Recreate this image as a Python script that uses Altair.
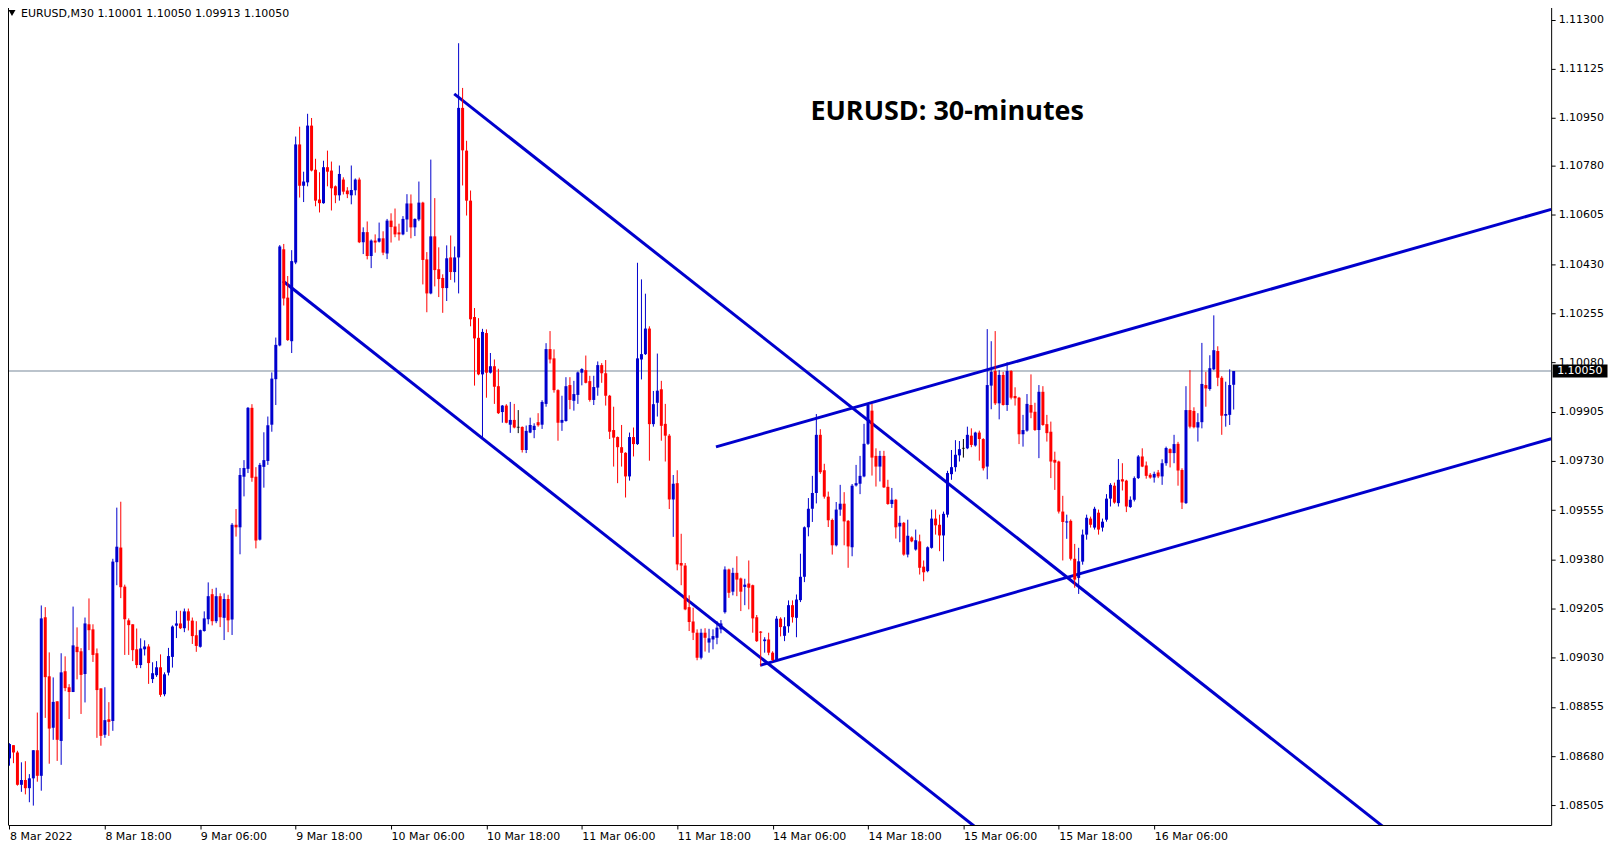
import json
import altair as alt
import pandas as pd

# ---------------- data (EURUSD M30) ----------------
OPEN = [1.08672, 1.08719, 1.08693, 1.08578, 1.08595, 1.08566, 1.08601, 1.08701, 1.08610, 1.09174,
        1.08964, 1.08781, 1.08875, 1.08734, 1.08982, 1.08925, 1.08908, 1.09069, 1.09053, 1.08972,
        1.09149, 1.09131, 1.09046, 1.08921, 1.08756, 1.08811, 1.08805, 1.09370, 1.09422, 1.09283,
        1.09163, 1.09149, 1.09060, 1.09004, 1.09060, 1.09070, 1.08954, 1.08968, 1.08996, 1.08900,
        1.08977, 1.09033, 1.09144, 1.09152, 1.09135, 1.09195, 1.09162, 1.09110, 1.09069, 1.09125,
        1.09167, 1.09256, 1.09160, 1.09249, 1.09172, 1.09239, 1.09166, 1.09503, 1.09494, 1.09674,
        1.09702, 1.09919, 1.09674, 1.09450, 1.09709, 1.09730, 1.09859, 1.10021, 1.10141, 1.10483,
        1.10311, 1.10156, 1.10436, 1.10856, 1.10709, 1.10721, 1.10923, 1.10766, 1.10660, 1.10647,
        1.10775, 1.10763, 1.10707, 1.10675, 1.10731, 1.10692, 1.10675, 1.10693, 1.10731, 1.10508,
        1.10544, 1.10459, 1.10514, 1.10510, 1.10522, 1.10468, 1.10585, 1.10564, 1.10543, 1.10536,
        1.10589, 1.10646, 1.10561, 1.10589, 1.10649, 1.10447, 1.10326, 1.10529, 1.10412, 1.10381,
        1.10345, 1.10454, 1.10402, 1.10454, 1.10986, 1.10834, 1.10656, 1.10242, 1.10168, 1.10038,
        1.10185, 1.10044, 1.10067, 1.09996, 1.09904, 1.09927, 1.09859, 1.09876, 1.09850, 1.09851,
        1.09769, 1.09831, 1.09840, 1.09868, 1.09859, 1.09933, 1.10128, 1.10095, 1.09982, 1.09866,
        1.09872, 1.10000, 1.09944, 1.09965, 1.10044, 1.10053, 1.10014, 1.09947, 1.09991, 1.10071,
        1.10042, 1.09962, 1.09840, 1.09815, 1.09779, 1.09759, 1.09675, 1.09815, 1.09790, 1.10091,
        1.10110, 1.10201, 1.09861, 1.09937, 1.09985, 1.09862, 1.09820, 1.09593, 1.09651, 1.09367,
        1.09358, 1.09210, 1.09159, 1.09119, 1.09030, 1.09119, 1.09084, 1.09095, 1.09101, 1.09131,
        1.09192, 1.09344, 1.09265, 1.09332, 1.09312, 1.09282, 1.09294, 1.09288, 1.09174, 1.09123,
        1.09089, 1.09095, 1.09048, 1.09022, 1.09169, 1.09108, 1.09142, 1.09217, 1.09172, 1.09235,
        1.09318, 1.09494, 1.09560, 1.09616, 1.09823, 1.09697, 1.09603, 1.09520, 1.09430, 1.09557,
        1.09578, 1.09517, 1.09423, 1.09643, 1.09649, 1.09675, 1.09791, 1.09909, 1.09748, 1.09710,
        1.09748, 1.09638, 1.09577, 1.09592, 1.09497, 1.09510, 1.09397, 1.09458, 1.09415, 1.09444,
        1.09354, 1.09338, 1.09421, 1.09525, 1.09503, 1.09465, 1.09539, 1.09683, 1.09708, 1.09750,
        1.09775, 1.09775, 1.09820, 1.09785, 1.09831, 1.09808, 1.09710, 1.09998, 1.10050, 1.09935,
        1.10036, 1.09929, 1.10050, 1.09961, 1.09955, 1.09825, 1.09838, 1.09929, 1.09905, 1.09840,
        1.09976, 1.09861, 1.09834, 1.09734, 1.09728, 1.09550, 1.09511, 1.09517, 1.09382, 1.09314,
        1.09372, 1.09468, 1.09525, 1.09493, 1.09546, 1.09493, 1.09521, 1.09596, 1.09642, 1.09580,
        1.09665, 1.09660, 1.09566, 1.09592, 1.09669, 1.09746, 1.09714, 1.09681, 1.09671, 1.09689,
        1.09675, 1.09722, 1.09772, 1.09758, 1.09791, 1.09698, 1.09580, 1.09911, 1.09908, 1.09849,
        1.09868, 1.10000, 1.09986, 1.10056, 1.10121, 1.10026, 1.09891, 1.09894, 1.10001]

HIGH = [1.08726, 1.08719, 1.08699, 1.08658, 1.08662, 1.08616, 1.08701, 1.08835, 1.09216, 1.09210,
        1.09049, 1.08960, 1.08875, 1.09046, 1.09035, 1.08936, 1.09212, 1.09138, 1.09064, 1.09173,
        1.09241, 1.09149, 1.09063, 1.08921, 1.08925, 1.08872, 1.09382, 1.09564, 1.09585, 1.09290,
        1.09170, 1.09149, 1.09134, 1.09099, 1.09092, 1.09078, 1.09014, 1.09018, 1.09042, 1.08978,
        1.09065, 1.09145, 1.09197, 1.09197, 1.09205, 1.09205, 1.09173, 1.09160, 1.09130, 1.09195,
        1.09298, 1.09275, 1.09279, 1.09259, 1.09259, 1.09254, 1.09509, 1.09559, 1.09705, 1.09733,
        1.09922, 1.09932, 1.09708, 1.09723, 1.09832, 1.09888, 1.10045, 1.10169, 1.10498, 1.10502,
        1.10388, 1.10480, 1.10884, 1.10919, 1.10759, 1.10965, 1.10950, 1.10805, 1.10757, 1.10798,
        1.10834, 1.10795, 1.10710, 1.10781, 1.10739, 1.10704, 1.10781, 1.10735, 1.10738, 1.10561,
        1.10582, 1.10518, 1.10536, 1.10578, 1.10547, 1.10591, 1.10611, 1.10628, 1.10574, 1.10601,
        1.10679, 1.10678, 1.10593, 1.10724, 1.10652, 1.10473, 1.10802, 1.10665, 1.10490, 1.10394,
        1.10497, 1.10532, 1.10493, 1.11216, 1.11057, 1.10869, 1.10692, 1.10274, 1.10238, 1.10200,
        1.10198, 1.10114, 1.10091, 1.10058, 1.09929, 1.09932, 1.09940, 1.09933, 1.09911, 1.09853,
        1.09856, 1.09884, 1.09864, 1.09900, 1.09946, 1.10149, 1.10192, 1.10127, 1.09985, 1.09962,
        1.10028, 1.10028, 1.10015, 1.10048, 1.10060, 1.10105, 1.10033, 1.10033, 1.10084, 1.10078,
        1.10089, 1.09965, 1.09923, 1.09817, 1.09858, 1.09761, 1.09831, 1.09849, 1.10435, 1.10376,
        1.10325, 1.10209, 1.09979, 1.10112, 1.10015, 1.09933, 1.09826, 1.09680, 1.09697, 1.09471,
        1.09367, 1.09252, 1.09208, 1.09131, 1.09133, 1.09135, 1.09133, 1.09131, 1.09160, 1.09164,
        1.09355, 1.09347, 1.09350, 1.09391, 1.09315, 1.09311, 1.09376, 1.09290, 1.09182, 1.09125,
        1.09103, 1.09119, 1.09053, 1.09178, 1.09174, 1.09174, 1.09234, 1.09234, 1.09255, 1.09400,
        1.09497, 1.09598, 1.09677, 1.09897, 1.09843, 1.09720, 1.09621, 1.09525, 1.09584, 1.09645,
        1.09619, 1.09520, 1.09648, 1.09716, 1.09748, 1.09862, 1.09935, 1.09933, 1.09775, 1.09766,
        1.09766, 1.09663, 1.09634, 1.09595, 1.09535, 1.09513, 1.09521, 1.09462, 1.09486, 1.09468,
        1.09376, 1.09426, 1.09557, 1.09557, 1.09539, 1.09550, 1.09695, 1.09769, 1.09804, 1.09801,
        1.09808, 1.09852, 1.09846, 1.09834, 1.09838, 1.09811, 1.10199, 1.10156, 1.10192, 1.10053,
        1.10047, 1.10081, 1.10053, 1.09992, 1.09958, 1.09894, 1.09968, 1.10038, 1.09937, 1.10000,
        1.09996, 1.09894, 1.09870, 1.09763, 1.09731, 1.09606, 1.09539, 1.09522, 1.09435, 1.09421,
        1.09486, 1.09539, 1.09532, 1.09567, 1.09557, 1.09525, 1.09612, 1.09651, 1.09653, 1.09737,
        1.09722, 1.09663, 1.09604, 1.09675, 1.09751, 1.09775, 1.09728, 1.09687, 1.09692, 1.09698,
        1.09736, 1.09781, 1.09775, 1.09823, 1.09798, 1.09704, 1.09996, 1.10053, 1.09921, 1.09900,
        1.10150, 1.10047, 1.10106, 1.10248, 1.10138, 1.10032, 1.10012, 1.10056, 1.10050]

LOW = [1.08646, 1.08655, 1.08575, 1.08553, 1.08544, 1.08516, 1.08504, 1.08589, 1.08557, 1.08816,
       1.08653, 1.08738, 1.08663, 1.08649, 1.08911, 1.08812, 1.08908, 1.08953, 1.08830, 1.08871,
       1.09057, 1.09015, 1.08745, 1.08717, 1.08745, 1.08752, 1.08770, 1.09288, 1.09242, 1.09040,
       1.09040, 1.09018, 1.08993, 1.08993, 1.09038, 1.08937, 1.08940, 1.08962, 1.08891, 1.08893,
       1.08967, 1.08995, 1.09100, 1.09132, 1.09121, 1.09127, 1.09079, 1.09051, 1.09066, 1.09123,
       1.09149, 1.09145, 1.09153, 1.09139, 1.09093, 1.09121, 1.09111, 1.09461, 1.09398, 1.09604,
       1.09687, 1.09656, 1.09419, 1.09447, 1.09635, 1.09716, 1.09834, 1.09929, 1.10138, 1.10283,
       1.10157, 1.10114, 1.10430, 1.10667, 1.10651, 1.10707, 1.10760, 1.10636, 1.10614, 1.10645,
       1.10707, 1.10621, 1.10647, 1.10656, 1.10678, 1.10665, 1.10643, 1.10675, 1.10505, 1.10466,
       1.10447, 1.10416, 1.10471, 1.10507, 1.10462, 1.10448, 1.10507, 1.10526, 1.10514, 1.10533,
       1.10545, 1.10522, 1.10530, 1.10583, 1.10358, 1.10259, 1.10323, 1.10351, 1.10313, 1.10257,
       1.10299, 1.10374, 1.10365, 1.10326, 1.10710, 1.10603, 1.10209, 1.09998, 1.10035, 1.09807,
       1.09955, 1.10041, 1.09933, 1.09897, 1.09866, 1.09864, 1.09830, 1.09846, 1.09829, 1.09760,
       1.09758, 1.09829, 1.09811, 1.09852, 1.09844, 1.09923, 1.10077, 1.09973, 1.09802, 1.09837,
       1.09870, 1.09914, 1.09909, 1.09933, 1.09999, 1.10006, 1.09941, 1.09929, 1.09962, 1.10008,
       1.09927, 1.09808, 1.09710, 1.09651, 1.09710, 1.09600, 1.09660, 1.09746, 1.09787, 1.10020,
       1.10107, 1.09731, 1.09852, 1.09888, 1.09802, 1.09728, 1.09559, 1.09460, 1.09341, 1.09288,
       1.09199, 1.09125, 1.09093, 1.09021, 1.09024, 1.09052, 1.09048, 1.09060, 1.09078, 1.09117,
       1.09187, 1.09243, 1.09252, 1.09249, 1.09196, 1.09217, 1.09202, 1.09119, 1.09086, 1.09001,
       1.09048, 1.09039, 1.09018, 1.09018, 1.09106, 1.09089, 1.09119, 1.09155, 1.09103, 1.09228,
       1.09299, 1.09462, 1.09513, 1.09579, 1.09684, 1.09596, 1.09495, 1.09397, 1.09426, 1.09535,
       1.09430, 1.09350, 1.09391, 1.09639, 1.09612, 1.09672, 1.09787, 1.09678, 1.09639, 1.09657,
       1.09634, 1.09574, 1.09563, 1.09454, 1.09441, 1.09393, 1.09387, 1.09441, 1.09411, 1.09326,
       1.09302, 1.09334, 1.09418, 1.09468, 1.09409, 1.09373, 1.09529, 1.09663, 1.09692, 1.09728,
       1.09742, 1.09772, 1.09779, 1.09781, 1.09731, 1.09696, 1.09665, 1.09914, 1.09929, 1.09878,
       1.09927, 1.09908, 1.09949, 1.09927, 1.09790, 1.09781, 1.09834, 1.09882, 1.09837, 1.09740,
       1.09855, 1.09799, 1.09669, 1.09627, 1.09543, 1.09376, 1.09453, 1.09376, 1.09279, 1.09257,
       1.09361, 1.09450, 1.09493, 1.09486, 1.09468, 1.09479, 1.09514, 1.09568, 1.09578, 1.09568,
       1.09625, 1.09548, 1.09563, 1.09586, 1.09666, 1.09708, 1.09667, 1.09667, 1.09653, 1.09669,
       1.09645, 1.09713, 1.09707, 1.09722, 1.09642, 1.09559, 1.09577, 1.09846, 1.09846, 1.09799,
       1.09846, 1.09923, 1.09980, 1.10053, 1.09996, 1.09823, 1.09852, 1.09858, 1.09913]

CLOSE = [1.08723, 1.08693, 1.08578, 1.08595, 1.08566, 1.08601, 1.08701, 1.08610, 1.09170, 1.08961,
         1.08778, 1.08873, 1.08738, 1.08978, 1.08922, 1.08908, 1.09074, 1.09050, 1.08969, 1.09152,
         1.09128, 1.09040, 1.08915, 1.08752, 1.08808, 1.08802, 1.09372, 1.09425, 1.09281, 1.09167,
         1.09146, 1.09057, 1.09004, 1.09063, 1.09070, 1.09011, 1.08975, 1.08996, 1.08898, 1.08971,
         1.09036, 1.09141, 1.09152, 1.09135, 1.09195, 1.09162, 1.09107, 1.09072, 1.09128, 1.09170,
         1.09249, 1.09160, 1.09249, 1.09174, 1.09239, 1.09163, 1.09503, 1.09494, 1.09680, 1.09705,
         1.09919, 1.09670, 1.09447, 1.09716, 1.09733, 1.09857, 1.10023, 1.10143, 1.10493, 1.10308,
         1.10160, 1.10441, 1.10856, 1.10709, 1.10724, 1.10923, 1.10763, 1.10656, 1.10647, 1.10775,
         1.10759, 1.10700, 1.10675, 1.10751, 1.10688, 1.10679, 1.10694, 1.10731, 1.10508, 1.10544,
         1.10459, 1.10514, 1.10507, 1.10522, 1.10471, 1.10585, 1.10562, 1.10536, 1.10536, 1.10591,
         1.10646, 1.10561, 1.10591, 1.10649, 1.10445, 1.10326, 1.10529, 1.10409, 1.10377, 1.10345,
         1.10451, 1.10402, 1.10454, 1.10986, 1.10835, 1.10656, 1.10234, 1.10166, 1.10038, 1.10189,
         1.10044, 1.10067, 1.09994, 1.09900, 1.09927, 1.09866, 1.09876, 1.09849, 1.09850, 1.09769,
         1.09837, 1.09858, 1.09855, 1.09857, 1.09940, 1.10128, 1.10091, 1.09982, 1.09866, 1.09876,
         1.09996, 1.09947, 1.09968, 1.10045, 1.10057, 1.10008, 1.09947, 1.09993, 1.10071, 1.10042,
         1.09962, 1.09834, 1.09813, 1.09779, 1.09759, 1.09675, 1.09815, 1.09790, 1.10095, 1.10110,
         1.10201, 1.09861, 1.09932, 1.09980, 1.09855, 1.09820, 1.09593, 1.09649, 1.09362, 1.09358,
         1.09202, 1.09157, 1.09119, 1.09030, 1.09119, 1.09101, 1.09099, 1.09107, 1.09137, 1.09152,
         1.09344, 1.09261, 1.09332, 1.09308, 1.09265, 1.09290, 1.09279, 1.09170, 1.09089, 1.09119,
         1.09095, 1.09048, 1.09022, 1.09169, 1.09139, 1.09142, 1.09217, 1.09174, 1.09237, 1.09318,
         1.09494, 1.09560, 1.09616, 1.09823, 1.09690, 1.09603, 1.09519, 1.09430, 1.09557, 1.09578,
         1.09515, 1.09426, 1.09642, 1.09651, 1.09677, 1.09791, 1.09929, 1.09742, 1.09710, 1.09748,
         1.09636, 1.09577, 1.09592, 1.09494, 1.09510, 1.09397, 1.09464, 1.09444, 1.09448, 1.09350,
         1.09334, 1.09423, 1.09525, 1.09501, 1.09465, 1.09542, 1.09687, 1.09708, 1.09752, 1.09772,
         1.09775, 1.09823, 1.09787, 1.09831, 1.09808, 1.09704, 1.10000, 1.10047, 1.09935, 1.10036,
         1.09929, 1.10050, 1.09955, 1.09953, 1.09825, 1.09840, 1.09933, 1.09902, 1.09840, 1.09976,
         1.09858, 1.09829, 1.09728, 1.09724, 1.09550, 1.09513, 1.09515, 1.09382, 1.09308, 1.09373,
         1.09468, 1.09528, 1.09503, 1.09560, 1.09486, 1.09514, 1.09596, 1.09645, 1.09582, 1.09663,
         1.09657, 1.09568, 1.09592, 1.09669, 1.09746, 1.09710, 1.09677, 1.09671, 1.09684, 1.09675,
         1.09722, 1.09776, 1.09758, 1.09790, 1.09696, 1.09582, 1.09911, 1.09852, 1.09850, 1.09868,
         1.10004, 1.09988, 1.10060, 1.10124, 1.10026, 1.09891, 1.09897, 1.10000, 1.10050]

X_LABELS = ["8 Mar 2022", "8 Mar 18:00", "9 Mar 06:00", "9 Mar 18:00", "10 Mar 06:00",
            "10 Mar 18:00", "11 Mar 06:00", "11 Mar 18:00", "14 Mar 06:00", "14 Mar 18:00",
            "15 Mar 06:00", "15 Mar 18:00", "16 Mar 06:00"]
BARS_PER_LABEL = 24
Y_TICKS = [1.11300, 1.11125, 1.10950, 1.10780, 1.10605, 1.10430, 1.10255, 1.10080, 1.09905,
           1.09730, 1.09555, 1.09380, 1.09205, 1.09030, 1.08855, 1.08680, 1.08505]

# trend / channel lines: name, start bar, start price, end bar, end price
LINE_NAMES = ["lowerDown", "upperDown", "upperUp", "lowerUp"]
LINE_BAR0 = [68.8, 111.9, 177.75, 188.85]
LINE_P0 = [1.10370, 1.11036, 1.09780, 1.09003]
LINE_BAR1 = [250.0, 350.0, 387.875, 387.875]
LINE_P1 = [1.08350, 1.08380, 1.10625, 1.09809]

BID = 1.10050
HEADER = "EURUSD,M30  1.10001 1.10050 1.09913 1.10050"
TITLE = "EURUSD: 30-minutes"

# ---------------- styling ----------------
UP = "#0000cd"
DOWN = "#ff0000"
LINE_COLOR = "#0000cd"
FONT = "DejaVu Sans"
W, H = 1547, 826
X_DOMAIN = [-0.375, 387.875]
Y_DOMAIN = [1.08435, 1.11366]

candles = pd.DataFrame({"bar": list(range(len(OPEN))), "open": OPEN, "high": HIGH,
                        "low": LOW, "close": CLOSE})
candles["dir"] = ["up" if c > o else ("down" if c < o else "doji") for o, c in zip(OPEN, CLOSE)]

lines = pd.DataFrame({
    "name": [n for n in LINE_NAMES for _ in range(2)],
    "bar": [v for pair in zip(LINE_BAR0, LINE_BAR1) for v in pair],
    "price": [v for pair in zip(LINE_P0, LINE_P1) for v in pair],
})

label_expr = json.dumps(X_LABELS) + f"[round(datum.value / {BARS_PER_LABEL})]"
x_axis = alt.Axis(values=[i * BARS_PER_LABEL for i in range(len(X_LABELS))], labelExpr=label_expr,
                  title=None, orient="bottom", tickSize=4, labelAlign="left", labelBaseline="top",
                  labelPadding=2, labelFlush=False, labelOverlap=False, grid=False)
y_axis = alt.Axis(values=Y_TICKS, format=".5f", title=None, orient="right", tickSize=4,
                  labelPadding=3, labelFlush=False, labelOverlap=False, grid=False)
xs = alt.Scale(domain=X_DOMAIN, nice=False, zero=False)
ys = alt.Scale(domain=Y_DOMAIN, nice=False, zero=False)


def X(field):
    return alt.X(f"{field}:Q", scale=xs, axis=x_axis)


def Y(field):
    return alt.Y(f"{field}:Q", scale=ys, axis=y_axis)


color = alt.Color("dir:N", scale=alt.Scale(domain=["up", "down", "doji"], range=[UP, DOWN, "#000000"]),
                  legend=None)

base = alt.Chart(candles)
wicks = base.mark_rule(strokeWidth=1).encode(x=X("bar"), y=Y("low"), y2="high:Q", color=color)
bodies = base.mark_rule(strokeWidth=3, strokeCap="butt").encode(x=X("bar"), y=Y("open"), y2="close:Q",
                                                                 color=color)
dojis = base.transform_filter("datum.dir == 'doji'").mark_tick(
    orient="horizontal", size=3, thickness=1, color="black").encode(x=X("bar"), y=Y("open"))

bid_df = pd.DataFrame({"price": [BID], "label": [f"{BID:.5f}"]})
bid_line = alt.Chart(bid_df).mark_rule(color="#778899", strokeWidth=1).encode(y=Y("price"))

trend = alt.Chart(lines).mark_line(strokeWidth=3, clip=True, color=LINE_COLOR).encode(
    x=X("bar"), y=Y("price"), detail="name:N")

BOX = "M-1,-0.24L1,-0.24L1,0.24L-1,0.24Z"
bid_box = alt.Chart(bid_df).mark_point(shape=BOX, filled=True, color="black", size=3025,
                                       opacity=1, strokeWidth=0).encode(
    x=alt.value(W + 29), y=Y("price"))
bid_text = alt.Chart(bid_df).mark_text(align="left", baseline="middle", color="white", font=FONT,
                                       fontSize=11).encode(x=alt.value(W + 6), y=Y("price"),
                                                           text="label:N")

title_df = pd.DataFrame({"t": [TITLE]})
title = alt.Chart(title_df).mark_text(font="Open Sans", fontSize=27, fontWeight="bold", align="center",
                                      baseline="alphabetic", color="black").encode(
    x=alt.value(941.5), y=alt.value(119.5), text="t:N")

head_df = pd.DataFrame({"t": [HEADER]})
header = alt.Chart(head_df).mark_text(font=FONT, fontSize=11, align="left", baseline="middle",
                                      color="black").encode(x=alt.value(13), y=alt.value(12.5),
                                                            text="t:N")
tri = alt.Chart(head_df).mark_point(shape="triangle-down", filled=True, color="black", size=49,
                                    opacity=1, strokeWidth=0).encode(x=alt.value(4), y=alt.value(12))

left_border = alt.Chart(head_df).mark_rule(color="black", strokeWidth=1).encode(
    x=alt.value(0.5), y=alt.value(0), y2=alt.value(H))

chart = alt.layer(
    bid_line, trend, wicks, bodies, dojis, bid_box, bid_text, title, header, tri, left_border
).properties(
    width=W, height=H,
    autosize=alt.AutoSizeParams(type="none"),
    padding={"left": 0, "top": -8, "right": 60, "bottom": 18},
    background="white",
).configure_view(strokeWidth=0).configure_axis(
    labelFont=FONT, labelFontSize=11, labelColor="black", domainColor="black", tickColor="black",
    domainWidth=1, tickWidth=1, grid=False,
)

chart.save("out.html", embed_options={"renderer": "svg", "actions": False})
